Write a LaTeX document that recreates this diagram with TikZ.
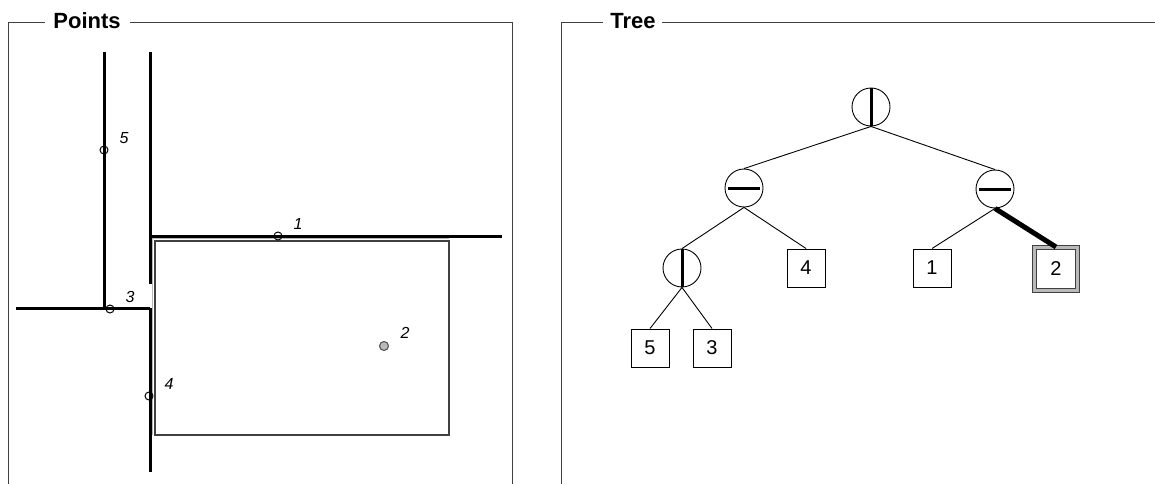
\documentclass[tikz,border=0pt]{standalone}
\usepackage{fontspec}
\setmainfont{Liberation Sans}
\usetikzlibrary{positioning}

\begin{document}
\begin{tikzpicture}[
  x=1pt, y=-1pt,
  frame/.style={draw=black!75, line width=1pt},
  title/.style={font=\fontsize{22}{26}\selectfont\bfseries, inner sep=0pt},
  cut/.style={line width=3pt, black},
  pt/.style={circle, draw=black, line width=1pt, inner sep=0pt, minimum size=8pt},
  query/.style={pt, fill=gray!55, draw=black!70, minimum size=9pt},
  ptlabel/.style={font=\fontsize{16}{18}\selectfont\itshape, inner sep=0pt},
  split/.style={circle, draw=black, line width=0.9pt, inner sep=0pt, minimum size=38pt},
  vsplit/.style={split, path picture={\draw[line width=3pt] (path picture bounding box.north) -- (path picture bounding box.south);}},
  hsplit/.style={split, path picture={\draw[line width=3pt] ([xshift=3pt]path picture bounding box.west) -- ([xshift=-3pt]path picture bounding box.east);}},
  leaf/.style={draw=black, line width=1pt, inner sep=0pt, minimum size=38pt, font=\fontsize{20}{22}\selectfont},
  found/.style={leaf, draw=black!75, line width=1pt, double=gray!55, double distance=3pt, minimum size=43pt},
  edge/.style={black, line width=0.9pt}]

\useasboundingbox (0,0) rectangle (1155,484);

% frames
\node[title] (ptitle) at (87,21) {Points};
\node[title] (ttitle) at (633,21) {Tree};
\draw[frame] (45,23) -- (8,23) -- (8,484);
\draw[frame] (130,23) -- (512,23) -- (512,484);
\draw[frame] (603,23) -- (561,23) -- (561,484);
\draw[frame] (662,23) -- (1155,23);

% query rectangle
\draw[gray!55, line width=1pt] (152,435) -- (152,238) -- (449,238);
\draw[draw=black!75, line width=1.2pt] (155,241) rectangle (449,435);

% cuts
\draw[cut] (104,52) -- (104,308);
\draw[cut] (150,52) -- (150,284);
\draw[cut] (150,308) -- (150,472);
\draw[cut] (150,236) -- (502,236);
\draw[cut] (16,308) -- (150,308);

% points
\foreach \n/\x/\y in {1/278/236, 3/110/309, 4/149/396, 5/104/150} {
  \node[pt] (p\n) at (\x,\y) {};
  \node[ptlabel] (l\n) at (\x+20,\y-12) {\n};
}
\node[query] (p2) at (384,346) {};
\node[ptlabel] (l2) at (405,333) {2};

% tree
\node[vsplit] (root) at (871,107) {};
\node[hsplit] (a) at (744,188) {};
\node[hsplit] (b) at (995,189) {};
\node[vsplit] (c) at (682,268) {};
\node[leaf] (t4) at (806,268) {4};
\node[leaf] (t1) at (932,268) {1};
\node[found] (t2) at (1056,269) {2};
\node[leaf] (t5) at (650,348) {5};
\node[leaf] (t3) at (712,348) {3};

\draw[edge] (root.south) -- (a.north);
\draw[edge] (root.south) -- (b.north);
\draw[edge] (a.south) -- (c.north);
\draw[edge] (a.south) -- (t4.north);
\draw[edge] (c.south) -- (t5.north);
\draw[edge] (c.south) -- (t3.north);
\draw[edge] (b.south) -- (t1.north);
\draw[line width=5pt] (b.south) -- (t2.north);

\end{tikzpicture}
\end{document}
